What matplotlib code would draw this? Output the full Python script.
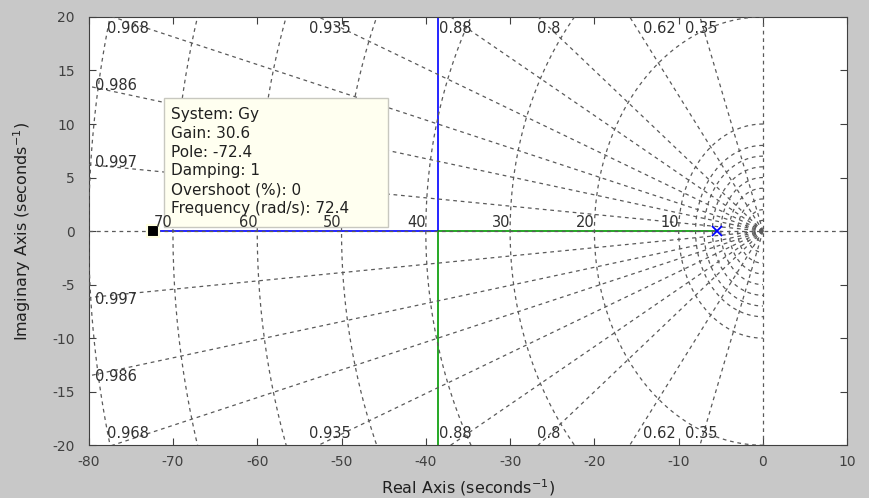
import numpy as np
import matplotlib.pyplot as plt
from matplotlib.patches import Rectangle

# root locus branches
blue_x = [-72.4, -38.6, -38.6]
blue_y = [0, 0, 25]
green_x = [-5.5, -38.6, -38.6]
green_y = [0, 0, -25]
pole_x = [-5.5]
pole_y = [0]

# sgrid
zetas = [0.35, 0.62, 0.8, 0.88, 0.935, 0.968, 0.986, 0.997]
wn_lab = [10, 20, 30, 40, 50, 60, 70, 80]
wn_small = [1, 2, 3, 4, 5, 6, 7, 8]
top_lab = ["0.968", "0.935", "0.88", "0.8", "0.62", "0.35"]
top_lab_x = [-77.8, -53.8, -38.4, -26.8, -14.2, -9.2]
side_lab = ["0.986", "0.997"]
side_lab_y = [13.6, 6.4]

tip_x, tip_y = -72.4, 0
tip_text = ["System: Gy", "Gain: 30.6", "Pole: -72.4", "Damping: 1",
            "Overshoot (%): 0", "Frequency (rad/s): 72.4"]

plt.rcParams['font.family'] = ['DejaVu Sans']
plt.rcParams['axes.unicode_minus'] = False

fig = plt.figure(figsize=(8.69, 4.98), dpi=100, facecolor='#c8c8c8')
ax = fig.add_axes([0.102, 0.106, 0.873, 0.86])
ax.set_facecolor('white')

gc = '#5a5a5a'
gs = dict(color=gc, lw=0.9, ls=(0, (3, 3)), zorder=3)

# locus lines under the grid
ax.plot(blue_x, blue_y, color='#0000ff', lw=1.2, zorder=2)
ax.plot(green_x, green_y, color='#009900', lw=1.2, zorder=2)

R = 200
for z in zetas:
    th = np.arccos(z)
    ax.plot([0, -R*np.cos(th)], [0, R*np.sin(th)], **gs)
    ax.plot([0, -R*np.cos(th)], [0, -R*np.sin(th)], **gs)
ax.plot([-R, R], [0, 0], **gs)
ax.plot([0, 0], [-R, R], **gs)

t = np.linspace(np.pi/2, 3*np.pi/2, 400)
for w in wn_lab + wn_small:
    ax.plot(w*np.cos(t), w*np.sin(t), **gs)

tc = '#303030'
for s, x in zip(top_lab, top_lab_x):
    ax.text(x, 18.9, s, fontsize=10.5, color=tc, va='center', ha='left', zorder=4)
    ax.text(x, -18.9, s, fontsize=10.5, color=tc, va='center', ha='left', zorder=4)
for s, y in zip(side_lab, side_lab_y):
    ax.text(-79.3, y, s, fontsize=10.5, color=tc, va='center', ha='left', zorder=4)
    ax.text(-79.3, -y, s, fontsize=10.5, color=tc, va='center', ha='left', zorder=4)
for w in wn_lab[:-1]:
    ax.text(-w, 0.1, str(w), fontsize=10.5, color=tc, va='bottom', ha='right', zorder=8)

ax.plot(pole_x, pole_y, 'x', color='#0000ff', ms=7, mew=1.3, zorder=5)

# data tip
ax.plot(tip_x, tip_y, 's', color='black', ms=8, mec='#ffffe0', mew=1.5, zorder=6)
ax.add_patch(Rectangle((-71.1, 0.4), 26.6, 12.0, fc='#fffff0', ec='#c8c8c0',
                       lw=1, zorder=6))
for i, s in enumerate(tip_text):
    ax.text(-70.2, 10.9 - 1.76*i, s, fontsize=11, color='#202020',
            va='center', ha='left', zorder=7)

ax.set_xlim(-80, 10)
ax.set_ylim(-20, 20)
ax.set_xticks(np.arange(-80, 11, 10))
ax.set_yticks(np.arange(-20, 21, 5))
ax.tick_params(direction='in', length=5, top=True, right=True,
               labelsize=10, colors='#404040', labelcolor='#404040')
ax.tick_params(axis='x', pad=7)
ax.tick_params(axis='y', pad=10)
for sp in ax.spines.values():
    sp.set_color('#404040')
ax.set_xlabel("Real Axis (seconds$^{-1}$)", fontsize=11.5, color='#202020', labelpad=6)
ax.set_ylabel("Imaginary Axis (seconds$^{-1}$)", fontsize=11.5, color='#202020', labelpad=14)

fig.savefig("out.png", dpi=100, facecolor=fig.get_facecolor())
